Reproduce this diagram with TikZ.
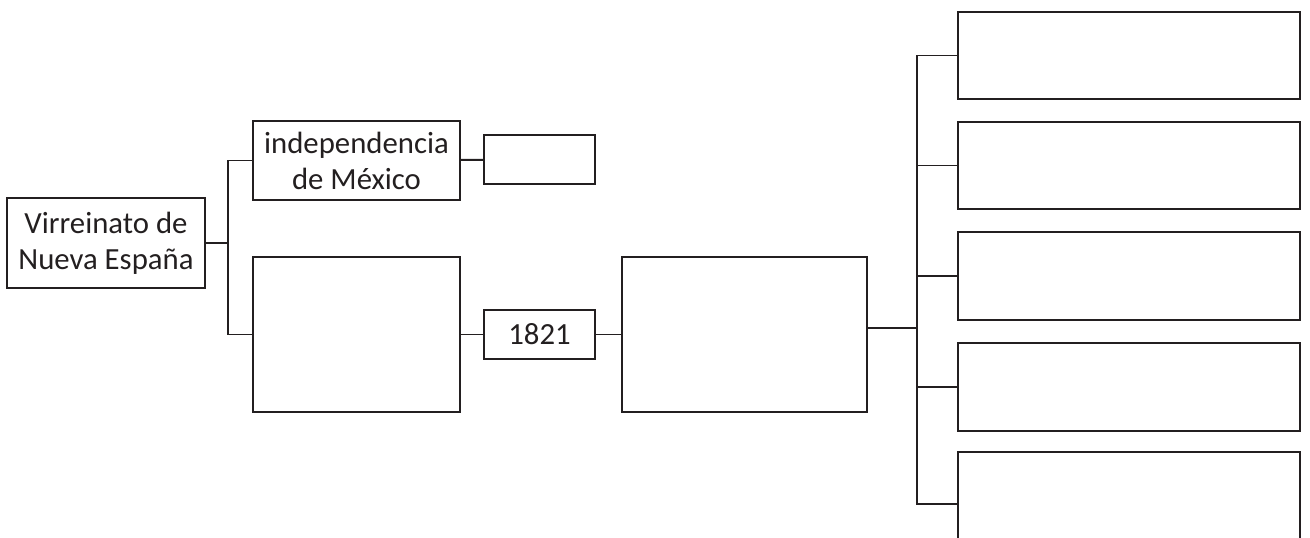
\documentclass[tikz,border=0pt]{standalone}
\usepackage{fontspec}
\setmainfont{Carlito}
\definecolor{trazo}{HTML}{231F20}
\begin{document}
\begin{tikzpicture}[x=0.02cm,y=-0.02cm,
    caja/.style={draw=trazo,line width=1.1pt,inner sep=0pt,align=center,text=trazo,
      font=\fontsize{17.5}{20.5}\selectfont},
    linea/.style={draw=trazo,line width=1.1pt}]
  \useasboundingbox (0,0) rectangle (1310,537);
  \def\caja#1#2#3#4#5#6{
    \node[caja,minimum width={0.02cm*(#4-#2)},minimum height={0.02cm*(#5-#3)}]
      (#1) at ({(#2+#4)/2},{(#3+#5)/2}) {#6};
  }
  % left part
  \caja{raiz}{7}{198}{205}{288}{Virreinato de\\Nueva España}
  \caja{indep}{253}{121}{460}{200}{independencia\\de México}
  \caja{fecha}{484}{135}{595}{184}{}
  \caja{vacio}{253}{257}{460}{412}{}
  \caja{anio}{484}{310}{595}{359}{1821}
  \caja{medio}{622}{257}{867}{412}{}
  \coordinate (t1) at (228,243);
  \draw[linea] (raiz) -- (t1);
  \draw[linea] (indep.west) -| (t1) |- (vacio.west);
  \draw[linea] (indep) -- (fecha);
  \draw[linea] (vacio) -- (anio) -- (medio);
  % right column
  \foreach \i/\ya/\yb in {1/12/99,2/122/209,3/232/320,4/343/431,5/452/556}{
    \caja{r\i}{958}{\ya}{1300}{\yb}{}
  }
  \coordinate (t2) at (917,328);
  \draw[linea] (medio.east |- t2) -- (t2);
  \foreach \i in {1,...,5} \draw[linea] (t2) |- (r\i.west);
\end{tikzpicture}
\end{document}
